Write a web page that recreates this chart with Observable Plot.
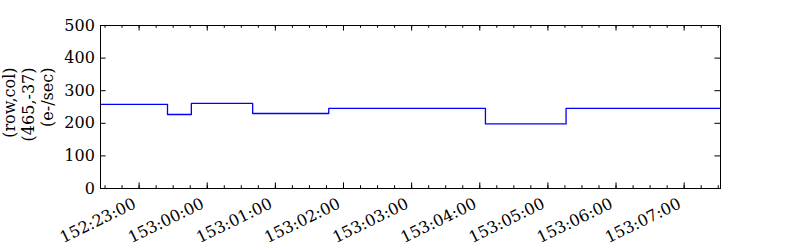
<!DOCTYPE html>
<html><head><meta charset="utf-8">
<script src="https://cdn.jsdelivr.net/npm/d3@7"></script>
<script src="https://cdn.jsdelivr.net/npm/@observablehq/plot@0.6"></script>
<style>body{margin:0;background:#fff}</style>
</head><body><div id="chart"></div>
<script>
// Step start times (DOY:HH:MM) and levels; last entry marks the end of the final step
const stepTimes = ["152:22:26","152:23:25","152:23:46","153:00:40","153:01:47","153:04:05","153:05:16","153:07:32"];
const stepValues = [258, 227, 261, 230, 246, 198, 246, 246];
const tickLabels = ["152:23:00","153:00:00","153:01:00","153:02:00","153:03:00","153:04:00","153:05:00","153:06:00","153:07:00"];
const yTicks = [0, 100, 200, 300, 400, 500];
const yLabelLines = ["(row,col)", "(465,-37)", "(e-/sec)"];

const toHours = s => { const [d, h, m] = s.split(":").map(Number); return d * 24 + h + m / 60; };
const data = stepTimes.map((t, i) => ({t: toHours(t), v: stepValues[i]}));
const majors = tickLabels.map(toHours);
const xStart = data[0].t, xEnd = data[data.length - 1].t;
const minors = d3.range(Math.ceil(xStart * 4) / 4, xEnd, 0.25);

const W = 800, H = 250, ML = 100, MR = 80, MT = 25, MB = 62;
const FW = W - ML - MR, FH = H - MT - MB;
const MAJ = 5.6, MIN = 2.8;

const chart = Plot.plot({
  width: W, height: H,
  marginLeft: ML, marginRight: MR, marginTop: MT, marginBottom: MB,
  style: {fontFamily: "DejaVu Serif", fontSize: "16px", color: "black", background: "white", overflow: "visible"},
  x: {domain: [xStart, xEnd], axis: null},
  y: {domain: [0, 500], axis: null},
  marks: [
    Plot.ruleX(minors, {x: d => d, insetTop: FH - MIN, stroke: "black"}),
    Plot.ruleX(minors, {x: d => d, insetBottom: FH - MIN, stroke: "black"}),
    Plot.ruleX(majors, {x: d => d, insetTop: FH - MAJ, stroke: "black"}),
    Plot.ruleX(majors, {x: d => d, insetBottom: FH - MAJ, stroke: "black"}),
    Plot.ruleY(yTicks, {y: d => d, insetRight: FW - MAJ, stroke: "black"}),
    Plot.ruleY(yTicks, {y: d => d, insetLeft: FW - MAJ, stroke: "black"}),
    Plot.line(data, {x: "t", y: "v", curve: "step-after", stroke: "#0000ff", strokeWidth: 1.3}),
    Plot.frame({stroke: "black", strokeWidth: 1}),
    Plot.text(yTicks, {y: d => d, text: d => String(d), frameAnchor: "left", dx: -5.6, textAnchor: "end", lineAnchor: "middle"}),
    Plot.text(majors, {x: d => d, text: (d, i) => tickLabels[i], frameAnchor: "bottom", dx: -2, dy: 18.8, rotate: -26, textAnchor: "end", lineAnchor: "bottom"}),
    Plot.text([0], {frameAnchor: "top-left", text: () => yLabelLines.join("\n"), dx: -98.7, dy: 42, rotate: -90, textAnchor: "end", lineAnchor: "top", lineHeight: 1.17})
  ]
});
document.getElementById("chart").appendChild(chart);
</script>
</body></html>
